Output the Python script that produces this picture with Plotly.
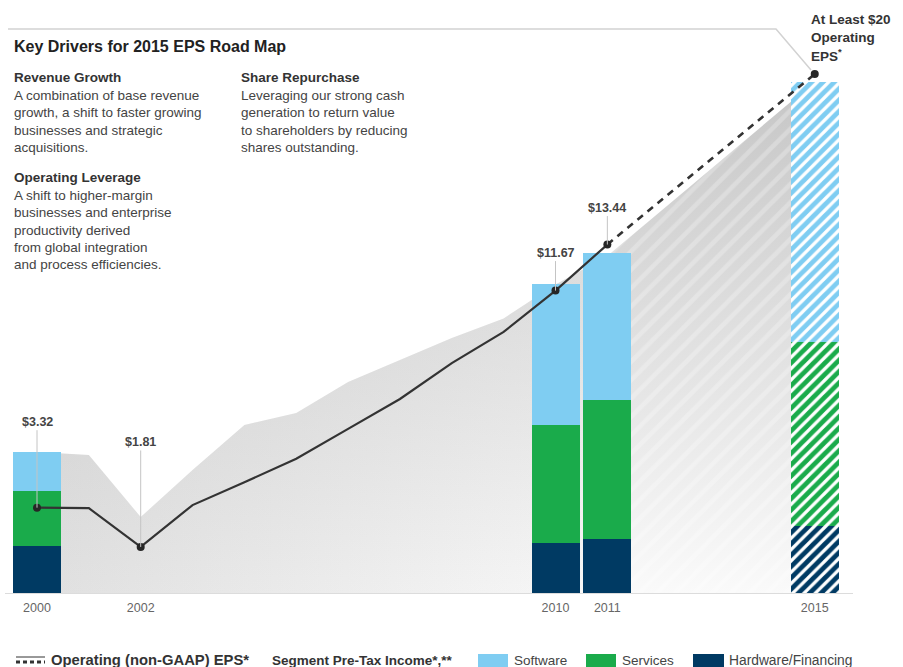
import plotly.graph_objects as go

# ---------------- data ----------------
eps_years = [2000, 2001, 2002, 2003, 2004, 2005, 2006, 2007, 2008, 2009, 2010, 2011]
eps_values = [3.32, 3.30, 1.81, 3.42, 4.30, 5.20, 6.35, 7.50, 8.88, 10.08, 11.67, 13.44]
proj_years = [2011, 2015]
proj_values = [13.44, 20.0]

marker_years = [2000, 2002, 2010, 2011, 2015]
marker_values = [3.32, 1.81, 11.67, 13.44, 20.0]
marker_labels = ["$3.32", "$1.81", "$11.67", "$13.44"]
label_offsets = [-86, -105, -38, -37]   # px, label above point

area_years = [2000, 2001, 2002, 2003, 2004, 2005, 2006, 2007, 2008, 2009, 2010, 2011]
area_top = [5.46, 5.35, 2.96, 4.77, 6.50, 6.96, 8.15, 9.00, 9.85, 10.60, 11.90, 13.00]
proj_area_years = [2011, 2015]
proj_area_top = [13.00, 19.70]

bar_years = [2000, 2010, 2011, 2015]
hardware = [1.85, 1.96, 2.12, 2.62]
services = [2.12, 4.54, 5.35, 7.08]
software = [1.50, 5.42, 5.65, 10.00]

tick_years = [2000, 2002, 2010, 2011, 2015]
tick_labels = ["2000", "2002", "2010", "2011", "2015"]

C_SOFT = "#7fcdf2"
C_SERV = "#1aab4b"
C_HW = "#003a63"
FONT = "Liberation Sans, Arial, sans-serif"

W, H = 903, 667
PLOT_H = 594
PX_PER_YEAR = 51.85
PX_PER_UNIT = 26.0
X0 = 2000 - 37 / PX_PER_YEAR
X1 = X0 + W / PX_PER_YEAR
Y1 = PLOT_H / PX_PER_UNIT
BAR_W = 48 / PX_PER_YEAR


def px(x):
    return x / W


def py(y):
    return (PLOT_H - y) / PLOT_H


fig = go.Figure()

# shaded history area (main axes -> drawn beneath overlay subplot)
fig.add_trace(go.Scatter(
    x=area_years, y=area_top, mode="lines", fill="tozeroy",
    line=dict(width=0, color="rgba(0,0,0,0)"),
    fillgradient=dict(type="horizontal", start=2000, stop=2011,
                      colorscale=[[0, "#e0e0e0"], [1, "#f8f8f8"]]),
    hoverinfo="skip", showlegend=False))
fig.add_trace(go.Scatter(
    x=area_years, y=area_top, mode="lines", fill="tozeroy",
    line=dict(width=0, color="rgba(0,0,0,0)"),
    fillgradient=dict(type="vertical", start=0, stop=12,
                      colorscale=[[0, "rgba(170,170,170,0)"], [1, "rgba(170,170,170,0.33)"]]),
    hoverinfo="skip", showlegend=False))
# projected area
fig.add_trace(go.Scatter(
    x=proj_area_years, y=proj_area_top, mode="lines", fill="tozeroy",
    line=dict(width=0, color="rgba(0,0,0,0)"),
    fillgradient=dict(type="vertical", start=0, stop=19.7,
                      colorscale=[[0, "#fafafa"], [1, "#c6c6c6"]]),
    hoverinfo="skip", showlegend=False))
fig.add_trace(go.Scatter(
    x=proj_area_years, y=proj_area_top, mode="lines", fill="tozeroy",
    line=dict(width=0, color="rgba(0,0,0,0)"),
    fillcolor="rgba(0,0,0,0)",
    fillpattern=dict(shape="/", fgcolor="rgba(255,255,255,0.5)",
                     bgcolor="rgba(0,0,0,0)", size=13, solidity=0.35),
    hoverinfo="skip", showlegend=False))

# stacked bars (overlay subplot)
for vals, col in [(hardware, C_HW), (services, C_SERV), (software, C_SOFT)]:
    fig.add_trace(go.Bar(
        x=bar_years, y=vals, width=BAR_W, xaxis="x2", yaxis="y2",
        marker=dict(color=col, line=dict(width=0),
                    pattern=dict(shape=["", "", "", "/"], fgcolor=col, fgopacity=1,
                                 bgcolor="white", size=8, solidity=0.6,
                                 fillmode="replace")),
        hoverinfo="skip", showlegend=False))

# EPS line
fig.add_trace(go.Scatter(
    x=eps_years, y=eps_values, mode="lines", xaxis="x2", yaxis="y2",
    line=dict(color="#333333", width=2.2), hoverinfo="skip", showlegend=False))
fig.add_trace(go.Scatter(
    x=proj_years, y=proj_values, mode="lines", xaxis="x2", yaxis="y2",
    line=dict(color="#333333", width=2.6, dash="7px,6px"),
    hoverinfo="skip", showlegend=False))
fig.add_trace(go.Scatter(
    x=marker_years, y=marker_values, mode="markers", xaxis="x2", yaxis="y2",
    marker=dict(color="#262626", size=8), hoverinfo="skip", showlegend=False))

annotations = []
# point labels with leader lines
for xv, yv, txt_, off in zip(marker_years, marker_values, marker_labels, label_offsets):
    annotations.append(dict(
        x=xv, y=yv, xref="x2", yref="y2", text="<b>" + txt_ + "</b>",
        showarrow=True, arrowhead=0, arrowwidth=1, arrowcolor="#c4c4c4",
        ax=0, ay=off, standoff=0,
        font=dict(family=FONT, size=12.5, color="#444444")))


# title and text blocks
def txt(x, y, s, size=13.5, bold=False, color="#3a3a3a"):
    annotations.append(dict(
        x=px(x), y=py(y), xref="paper", yref="paper", xanchor="left", yanchor="middle",
        text=("<b>%s</b>" % s) if bold else s, showarrow=False,
        font=dict(family=FONT, size=size, color=color)))


txt(12, 46.5, "Key Drivers for 2015 EPS Road Map", size=16, bold=True, color="#222222")

left1 = ["A combination of base revenue", "growth, a shift to faster growing",
         "businesses and strategic", "acquisitions."]
left2 = ["A shift to higher-margin", "businesses and enterprise",
         "productivity derived", "from global integration", "and process efficiencies."]
right1 = ["Leveraging our strong cash", "generation to return value",
          "to shareholders by reducing", "shares outstanding."]
txt(12, 78, "Revenue Growth", bold=True, color="#333333")
for i, s in enumerate(left1):
    txt(12, 95.7 + 17.2 * i, s, color="#444444")
txt(12, 177.7, "Operating Leverage", bold=True, color="#333333")
for i, s in enumerate(left2):
    txt(12, 195.7 + 17.2 * i, s, color="#444444")
txt(239, 78, "Share Repurchase", bold=True, color="#333333")
for i, s in enumerate(right1):
    txt(239, 95.7 + 17.2 * i, s, color="#444444")

for i, s in enumerate(["At Least $20", "Operating", "EPS<sup>*</sup>"]):
    txt(809, 19 + 18.2 * i, s, bold=True, color="#333333")

# legend
LY = 660
txt(49, LY, "Operating (non-GAAP) EPS*", size=14.8, bold=True, color="#333333")
txt(270, LY, "Segment Pre-Tax Income*,**", bold=True, color="#333333")
txt(512, LY, "Software", color="#444444")
txt(620, LY, "Services", color="#444444")
txt(727, LY, "Hardware/Financing", size=13.8, color="#444444")

shapes = [
    # top rule and leader to 2015 point
    dict(type="path", xref="paper", yref="paper",
         path="M %f,%f L %f,%f L %f,%f" % (px(8), py(29), px(776), py(29), px(811), py(70)),
         line=dict(color="#d2d2d2", width=1.5)),
    # baseline
    dict(type="line", xref="paper", yref="y", x0=px(5), x1=px(853), y0=0, y1=0,
         line=dict(color="#dcdcdc", width=2), layer="above"),
    # legend swatches
    dict(type="rect", xref="paper", yref="paper", x0=px(478), x1=px(508), y0=py(654), y1=py(668),
         fillcolor=C_SOFT, line=dict(width=0)),
    dict(type="rect", xref="paper", yref="paper", x0=px(586), x1=px(616), y0=py(654), y1=py(668),
         fillcolor=C_SERV, line=dict(width=0)),
    dict(type="rect", xref="paper", yref="paper", x0=px(693), x1=px(724), y0=py(654), y1=py(668),
         fillcolor=C_HW, line=dict(width=0)),
    # legend dashed line icon
    dict(type="line", xref="paper", yref="paper", x0=px(16), x1=px(45), y0=py(657), y1=py(657),
         line=dict(color="#333333", width=1)),
    dict(type="line", xref="paper", yref="paper", x0=px(16), x1=px(45), y0=py(662), y1=py(662),
         line=dict(color="#333333", width=3, dash="4px,3px")),
]

fig.update_layout(
    width=W, height=H,
    margin=dict(l=0, r=0, t=0, b=H - PLOT_H),
    paper_bgcolor="white", plot_bgcolor="white",
    barmode="stack", bargap=0,
    showlegend=False,
    xaxis=dict(range=[X0, X1], tickvals=tick_years, ticktext=tick_labels,
               showgrid=False, zeroline=False, showline=False, ticks="",
               ticklabelstandoff=4,
               tickfont=dict(family=FONT, size=12.5, color="#666666"), fixedrange=True),
    yaxis=dict(range=[0, Y1], visible=False, fixedrange=True),
    xaxis2=dict(range=[X0, X1], overlaying="x", visible=False, fixedrange=True),
    yaxis2=dict(range=[0, Y1], overlaying="y", visible=False, fixedrange=True),
    annotations=annotations,
    shapes=shapes,
)

fig.write_html("out.html")
